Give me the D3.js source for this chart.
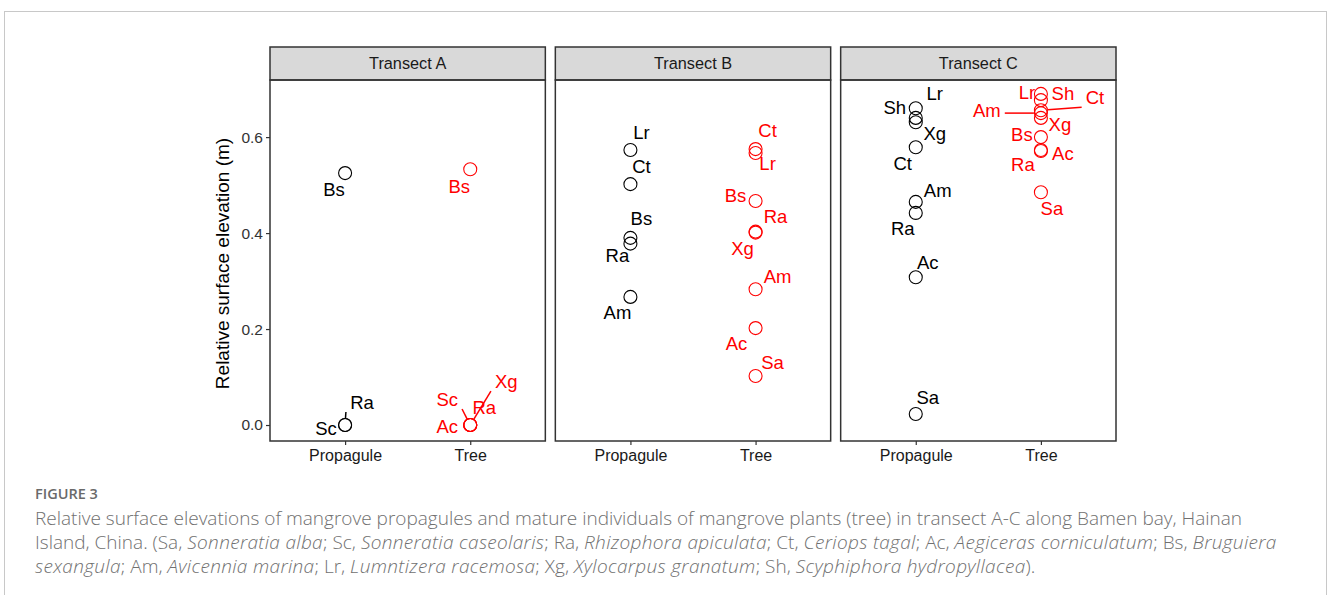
<!DOCTYPE html>
<html>
<head>
<meta charset="utf-8">
<script src="https://cdn.jsdelivr.net/npm/d3@7"></script>
<style>
  body { margin: 0; background: #fff; }
  svg text { font-family: "Liberation Sans", Arial, sans-serif; }
  .caption text { font-family: "Open Sans", "Noto Sans", sans-serif; }
</style>
</head>
<body>
<div id="chart"></div>
<script>
// facets, x categories and y ticks
var transects = ["Transect A", "Transect B", "Transect C"];
var groups = ["Propagule", "Tree"];
var yTicks = [0.0, 0.2, 0.4, 0.6];

// [species, elevation (m)] per transect and group
var propaguleA = [["Bs", 0.525], ["Sc", 0.0], ["Ra", 0.0]];
var treeA = [["Bs", 0.533], ["Sc", 0.0], ["Ra", 0.0], ["Xg", 0.0], ["Ac", 0.0]];
var propaguleB = [["Lr", 0.573], ["Ct", 0.502], ["Bs", 0.390], ["Ra", 0.378], ["Am", 0.267]];
var treeB = [["Ct", 0.575], ["Lr", 0.567], ["Bs", 0.467], ["Ra", 0.403], ["Xg", 0.401],
             ["Am", 0.283], ["Ac", 0.202], ["Sa", 0.102]];
var propaguleC = [["Lr", 0.660], ["Sh", 0.640], ["Xg", 0.631], ["Ct", 0.579], ["Am", 0.465],
                  ["Ra", 0.442], ["Ac", 0.308], ["Sa", 0.023]];
var treeC = [["Lr", 0.690], ["Sh", 0.677], ["Ct", 0.656], ["Am", 0.650], ["Xg", 0.640],
             ["Bs", 0.600], ["Ac", 0.573], ["Ra", 0.571], ["Sa", 0.485]];

// repelled label placement (pixel offset from the point, segment drawn or not)
var labelNudge = {
  "A|Propagule|Bs": [-11, 16], "A|Propagule|Sc": [-19, 3], "A|Propagule|Ra": [17, -23, 1],
  "A|Tree|Bs": [-11, 17], "A|Tree|Sc": [-23, -26, 1], "A|Tree|Ra": [14, -18],
  "A|Tree|Xg": [36, -44, 1], "A|Tree|Ac": [-23, 1],
  "B|Propagule|Lr": [11, -18], "B|Propagule|Ct": [11, -18], "B|Propagule|Bs": [11, -19],
  "B|Propagule|Ra": [-13, 12], "B|Propagule|Am": [-13, 16],
  "B|Tree|Ct": [12, -19], "B|Tree|Lr": [12, 11], "B|Tree|Bs": [-20, -5], "B|Tree|Ra": [20, -15],
  "B|Tree|Xg": [-13, 16], "B|Tree|Am": [22, -13], "B|Tree|Ac": [-19, 15], "B|Tree|Sa": [17, -14],
  "C|Propagule|Lr": [19, -15], "C|Propagule|Sh": [-21, -10], "C|Propagule|Xg": [19, 11],
  "C|Propagule|Ct": [-13, 16], "C|Propagule|Am": [22, -11], "C|Propagule|Ra": [-13, 16],
  "C|Propagule|Ac": [12, -15], "C|Propagule|Sa": [12, -16],
  "C|Tree|Lr": [-14, -1], "C|Tree|Sh": [22, -7], "C|Tree|Ct": [54, -13, 1], "C|Tree|Am": [-54, -3, 1],
  "C|Tree|Xg": [19, 7], "C|Tree|Bs": [-19, -3], "C|Tree|Ac": [22, 3], "C|Tree|Ra": [-18, 13],
  "C|Tree|Sa": [11, 16]
};

var sets = [
  [0, "Propagule", propaguleA], [0, "Tree", treeA],
  [1, "Propagule", propaguleB], [1, "Tree", treeB],
  [2, "Propagule", propaguleC], [2, "Tree", treeC]
];

var width = 1328, height = 595;
var plotLeft = 270, plotRight = 1116, stripTop = 47, stripH = 33, plotBottom = 441;
var colors = { Propagule: "#000000", Tree: "#ff0000" };

var svg = d3.select("#chart").append("svg")
  .attr("width", width).attr("height", height);

// outer figure frame
svg.append("rect")
  .attr("x", 4.5).attr("y", 11.5).attr("width", 1322).attr("height", 620)
  .attr("fill", "none").attr("stroke", "#c8c8c8").attr("stroke-width", 1);

var panelScale = d3.scaleBand().domain(transects).range([plotLeft, plotRight])
  .paddingInner(10 / 285.33).paddingOuter(0);
var pw = panelScale.bandwidth();

var xScale = d3.scalePoint().domain(groups).range([0, pw]).padding(0.6);
var yScale = d3.scaleLinear().domain([-0.0333, 0.719]).range([plotBottom, stripTop + stripH]);

// y axis title
svg.append("text")
  .attr("transform", "translate(229," + ((stripTop + stripH + plotBottom) / 2 + 3) + ")rotate(-90)")
  .attr("text-anchor", "middle")
  .attr("font-size", 19)
  .attr("fill", "#000")
  .text("Relative surface elevation (m)");

// y axis on the first panel
var yAxis = d3.axisLeft(yScale).tickValues(yTicks).tickFormat(d3.format(".1f"))
  .tickSize(4).tickPadding(3);
var yg = svg.append("g").attr("transform", "translate(" + plotLeft + ",0)").call(yAxis);
yg.select(".domain").remove();
yg.selectAll("line").attr("stroke", "#333").attr("stroke-width", 1.2);
yg.selectAll("text").attr("font-size", 15.5).attr("fill", "#333")
  .attr("font-family", "'Liberation Sans', Arial, sans-serif");

transects.forEach(function (t, i) {
  var g = svg.append("g").attr("class", "panel")
    .attr("transform", "translate(" + panelScale(t) + ",0)");

  // strip
  g.append("rect")
    .attr("x", 0).attr("y", stripTop).attr("width", pw).attr("height", stripH)
    .attr("fill", "#d9d9d9").attr("stroke", "#333").attr("stroke-width", 1.5);
  g.append("text")
    .attr("x", pw / 2).attr("y", stripTop + stripH / 2 + 5.8)
    .attr("text-anchor", "middle").attr("font-size", 16.3).attr("fill", "#1a1a1a")
    .text(t);

  // x axis
  var xAxis = d3.axisBottom(xScale).tickSize(4).tickPadding(5);
  var xg = g.append("g").attr("transform", "translate(0," + plotBottom + ")").call(xAxis);
  xg.select(".domain").remove();
  xg.selectAll("line").attr("stroke", "#333").attr("stroke-width", 1.2);
  xg.selectAll("text").attr("font-size", 16).attr("fill", "#1a1a1a")
    .attr("font-family", "'Liberation Sans', Arial, sans-serif");

  var marks = g.append("g");
  var labels = g.append("g");

  sets.filter(function (s) { return s[0] === i; }).forEach(function (s) {
    var grp = s[1], col = colors[grp];
    s[2].forEach(function (d) {
      var cx = xScale(grp), cy = yScale(d[1]);
      marks.append("circle")
        .attr("cx", cx).attr("cy", cy).attr("r", 6.5)
        .attr("fill", "none").attr("stroke", col).attr("stroke-width", 1.1);

      var nd = labelNudge["ABC"[i] + "|" + grp + "|" + d[0]] || [0, -16];
      var lx = cx + nd[0], ly = cy + nd[1];
      var txt = labels.append("text")
        .attr("x", lx).attr("y", ly + 6.5)
        .attr("text-anchor", "middle").attr("font-size", 18.5).attr("fill", col)
        .text(d[0]);

      if (nd[2]) {
        // segment from the nearest point of the padded label box to the circle edge
        var bb = txt.node().getBBox();
        var hw = bb.width / 2 + 4, hh = 7 + 3;
        var sx = Math.max(lx - hw, Math.min(lx + hw, cx));
        var sy = Math.max(ly - hh, Math.min(ly + hh, cy));
        var vx = cx - sx, vy = cy - sy;
        var len = Math.sqrt(vx * vx + vy * vy);
        var ex = cx - vx / len * 7, ey = cy - vy / len * 7;
        labels.append("line")
          .attr("x1", sx).attr("y1", sy).attr("x2", ex).attr("y2", ey)
          .attr("stroke", col).attr("stroke-width", 1.5);
      }
    });
  });

  // panel border
  g.append("rect")
    .attr("x", 0).attr("y", stripTop + stripH).attr("width", pw)
    .attr("height", plotBottom - stripTop - stripH)
    .attr("fill", "none").attr("stroke", "#333").attr("stroke-width", 1.5);
});

// caption
var cap = svg.append("g").attr("class", "caption");
cap.append("text")
  .attr("x", 35).attr("y", 499)
  .attr("font-size", 14.5).attr("font-weight", 600).attr("fill", "#6a6a6a")
  .text("FIGURE 3");

var captionLines = [
  [["Relative surface elevations of mangrove propagules and mature individuals of mangrove plants (tree) in transect A-C along Bamen bay, Hainan", 0]],
  [["Island, China. (Sa, ", 0], ["Sonneratia alba", 1], ["; Sc, ", 0], ["Sonneratia caseolaris", 1],
   ["; Ra, ", 0], ["Rhizophora apiculata", 1], ["; Ct, ", 0], ["Ceriops tagal", 1],
   ["; Ac, ", 0], ["Aegiceras corniculatum", 1], ["; Bs, ", 0], ["Bruguiera", 1]],
  [["sexangula", 1], ["; Am, ", 0], ["Avicennia marina", 1], ["; Lr, ", 0], ["Lumntizera racemosa", 1],
   ["; Xg, ", 0], ["Xylocarpus granatum", 1], ["; Sh, ", 0], ["Scyphiphora hydropyllacea", 1], [").", 0]]
];
captionLines.forEach(function (line, k) {
  var tx = cap.append("text")
    .attr("x", 35).attr("y", 525 + k * 24)
    .attr("font-size", 19).attr("font-weight", 300).attr("fill", "#707070")
    .attr("xml:space", "preserve");
  line.forEach(function (seg) {
    tx.append("tspan")
      .attr("font-style", seg[1] ? "italic" : "normal")
      .attr("letter-spacing", seg[1] ? 0.33 : 0)
      .text(seg[0]);
  });
});
</script>
</body>
</html>
